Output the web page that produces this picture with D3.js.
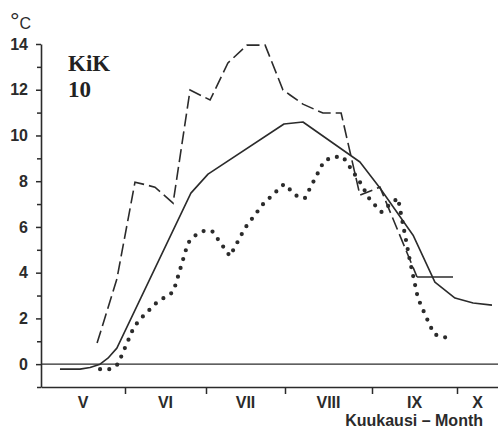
<!DOCTYPE html>
<html>
<head>
<meta charset="utf-8">
<script src="https://cdn.jsdelivr.net/npm/d3@7"></script>
<style>
  html, body { margin: 0; padding: 0; background: #fff; }
  svg { display: block; }
</style>
</head>
<body>
<svg id="chart" width="498" height="430"></svg>
<script>
// Month labels and the day (counted from 1 May) on which each month starts
const months = ["V", "VI", "VII", "VIII", "IX", "X"];
const monthStarts = [0, 31, 61, 92, 123, 153];
const seasonEnd = 168;

// Temperature ticks (°C)
const yMajorTicks = [0, 2, 4, 6, 8, 10, 12, 14];
const yMinorTicks = [-1, 1, 3, 5, 7, 9, 11, 13];

// Solid curve
const solidDays  = [7.0, 14.4, 18.1, 21.8, 24.7, 28.0, 55.4, 61.8, 91.6, 98.4, 118.7, 125.8, 137.5, 145.2, 152.3, 158.9, 165.8];
const solidTemps = [-0.22, -0.22, -0.15, 0.0, 0.26, 0.70, 7.48, 8.31, 10.50, 10.59, 8.84, 7.70, 5.64, 3.59, 2.89, 2.67, 2.58];

// Dashed curve
const dashedDays  = [20.7, 28.0, 34.7, 42.1, 48.8, 55.1, 62.6, 69.6, 77.1, 84.2, 91.2, 93.8, 98.4, 105.5, 112.0, 118.7, 125.8, 138.9, 151.6];
const dashedTemps = [0.92, 3.72, 7.96, 7.74, 7.04, 11.99, 11.55, 13.17, 13.95, 13.95, 11.99, 11.77, 11.37, 10.98, 10.98, 7.39, 7.74, 3.81, 3.81];

// Dotted curve
const dottedDays  = [21.8, 25.5, 28.4, 34.3, 36.9, 42.9, 48.8, 49.9, 54.3, 56.6, 59.9, 63.4, 70.4, 76.3, 83.4, 91.6, 96.6, 99.1, 105.9, 109.1, 112.7, 118.7, 122.3, 126.4, 128.6, 132.2, 132.9, 136.4, 139.2, 142.1, 144.9, 148.1, 151.6];
const dottedTemps = [-0.22, -0.22, 0.0, 1.62, 2.0, 2.71, 3.15, 3.54, 5.29, 5.6, 5.82, 5.82, 4.72, 5.95, 7.0, 7.87, 7.31, 7.26, 8.88, 9.06, 9.06, 7.96, 7.18, 6.65, 6.91, 7.26, 6.78, 4.51, 2.89, 2.06, 1.31, 1.18, 1.14];

const ink = "#2b2b2b";
const svg = d3.select("#chart");

// Month axis: month lengths on the printed axis are slightly uneven
const x = d3.scaleLinear()
  .domain(monthStarts.concat([seasonEnd]))
  .range([41, 125, 206, 285, 372, 457, 498]);

const y = d3.scaleLinear().domain([-1, 14]).range([387, 44]);

// Y axis with labelled even ticks
const yAxis = svg.append("g")
  .attr("transform", `translate(${x(0)},0)`)
  .call(d3.axisLeft(y).tickValues(yMajorTicks).tickSize(5).tickSizeOuter(0).tickPadding(8).tickFormat(d3.format("d")));
yAxis.select(".domain").attr("stroke", ink).attr("stroke-width", 1.6);
yAxis.selectAll(".tick line").attr("stroke", ink).attr("stroke-width", 1.5);
yAxis.selectAll(".tick text")
  .attr("fill", ink)
  .style("font-family", "'Liberation Sans', Arial, sans-serif")
  .style("font-size", "16px")
  .style("font-weight", "bold");

// Unlabelled odd ticks
const yMinor = svg.append("g")
  .attr("transform", `translate(${x(0)},0)`)
  .call(d3.axisLeft(y).tickValues(yMinorTicks).tickSize(4).tickSizeOuter(0).tickFormat(""));
yMinor.select(".domain").remove();
yMinor.selectAll(".tick line").attr("stroke", ink).attr("stroke-width", 1.5);

// X axis: month boundary ticks hanging below the line
const xAxis = svg.append("g")
  .attr("transform", `translate(0,${y(-1)})`)
  .call(d3.axisBottom(x).tickValues(monthStarts.slice(1)).tickSize(7).tickSizeOuter(0).tickFormat(""));
xAxis.select(".domain").attr("stroke", ink).attr("stroke-width", 1.6);
xAxis.selectAll(".tick line").attr("stroke", ink).attr("stroke-width", 1.5);

// Month names centred in each month
const monthEnds = monthStarts.slice(1).concat([seasonEnd]);
svg.append("g").selectAll("text")
  .data(months)
  .join("text")
  .attr("x", (d, i) => x((monthStarts[i] + monthEnds[i]) / 2))
  .attr("y", 408)
  .attr("text-anchor", "middle")
  .attr("fill", ink)
  .style("font-family", "'Liberation Sans', Arial, sans-serif")
  .style("font-size", "16px")
  .style("font-weight", "bold")
  .text(d => d);

svg.append("text")
  .attr("x", 483)
  .attr("y", 426)
  .attr("text-anchor", "end")
  .attr("fill", ink)
  .style("font-family", "'Liberation Sans', Arial, sans-serif")
  .style("font-size", "16px")
  .style("font-weight", "bold")
  .text("Kuukausi – Month");

// Unit label: a large raised degree ring before the C
const unit = svg.append("text")
  .attr("x", 10)
  .attr("y", 29)
  .attr("fill", ink)
  .style("font-family", "'Liberation Sans', Arial, sans-serif")
  .style("font-size", "16px");
unit.append("tspan").style("font-size", "24px").text("°");
unit.append("tspan").text("C");

// Station label
const station = svg.append("g")
  .attr("fill", "#222")
  .style("font-family", "'Liberation Serif', 'Times New Roman', serif")
  .style("font-size", "23px")
  .style("font-weight", "bold");
station.append("text").attr("x", 68).attr("y", 71).text("KiK");
station.append("text").attr("x", 68).attr("y", 97).text("10");

// Zero line
svg.append("line")
  .attr("x1", x(0)).attr("x2", x(seasonEnd))
  .attr("y1", y(0)).attr("y2", y(0))
  .attr("stroke", ink).attr("stroke-width", 1.4);

const line = d3.line().x(d => x(d[0])).y(d => y(d[1]));
const zip = (a, b) => a.map((v, i) => [v, b[i]]);

svg.append("path")
  .datum(zip(solidDays, solidTemps))
  .attr("d", line)
  .attr("fill", "none")
  .attr("stroke", ink)
  .attr("stroke-width", 1.6)
  .attr("stroke-linejoin", "round");

// Dashed curve; its closing level stretch is drawn as one long dash
const dashedPts = zip(dashedDays, dashedTemps);
svg.append("path")
  .datum(dashedPts.slice(0, -1))
  .attr("d", line)
  .attr("fill", "none")
  .attr("stroke", ink)
  .attr("stroke-width", 1.6)
  .attr("stroke-dasharray", "13 5");
svg.append("path")
  .datum(dashedPts.slice(-2))
  .attr("d", line)
  .attr("fill", "none")
  .attr("stroke", ink)
  .attr("stroke-width", 1.6);

svg.append("path")
  .datum(zip(dottedDays, dottedTemps))
  .attr("d", line)
  .attr("fill", "none")
  .attr("stroke", ink)
  .attr("stroke-width", 4.2)
  .attr("stroke-linecap", "round")
  .attr("stroke-dasharray", "0 9.2");
</script>
</body>
</html>
